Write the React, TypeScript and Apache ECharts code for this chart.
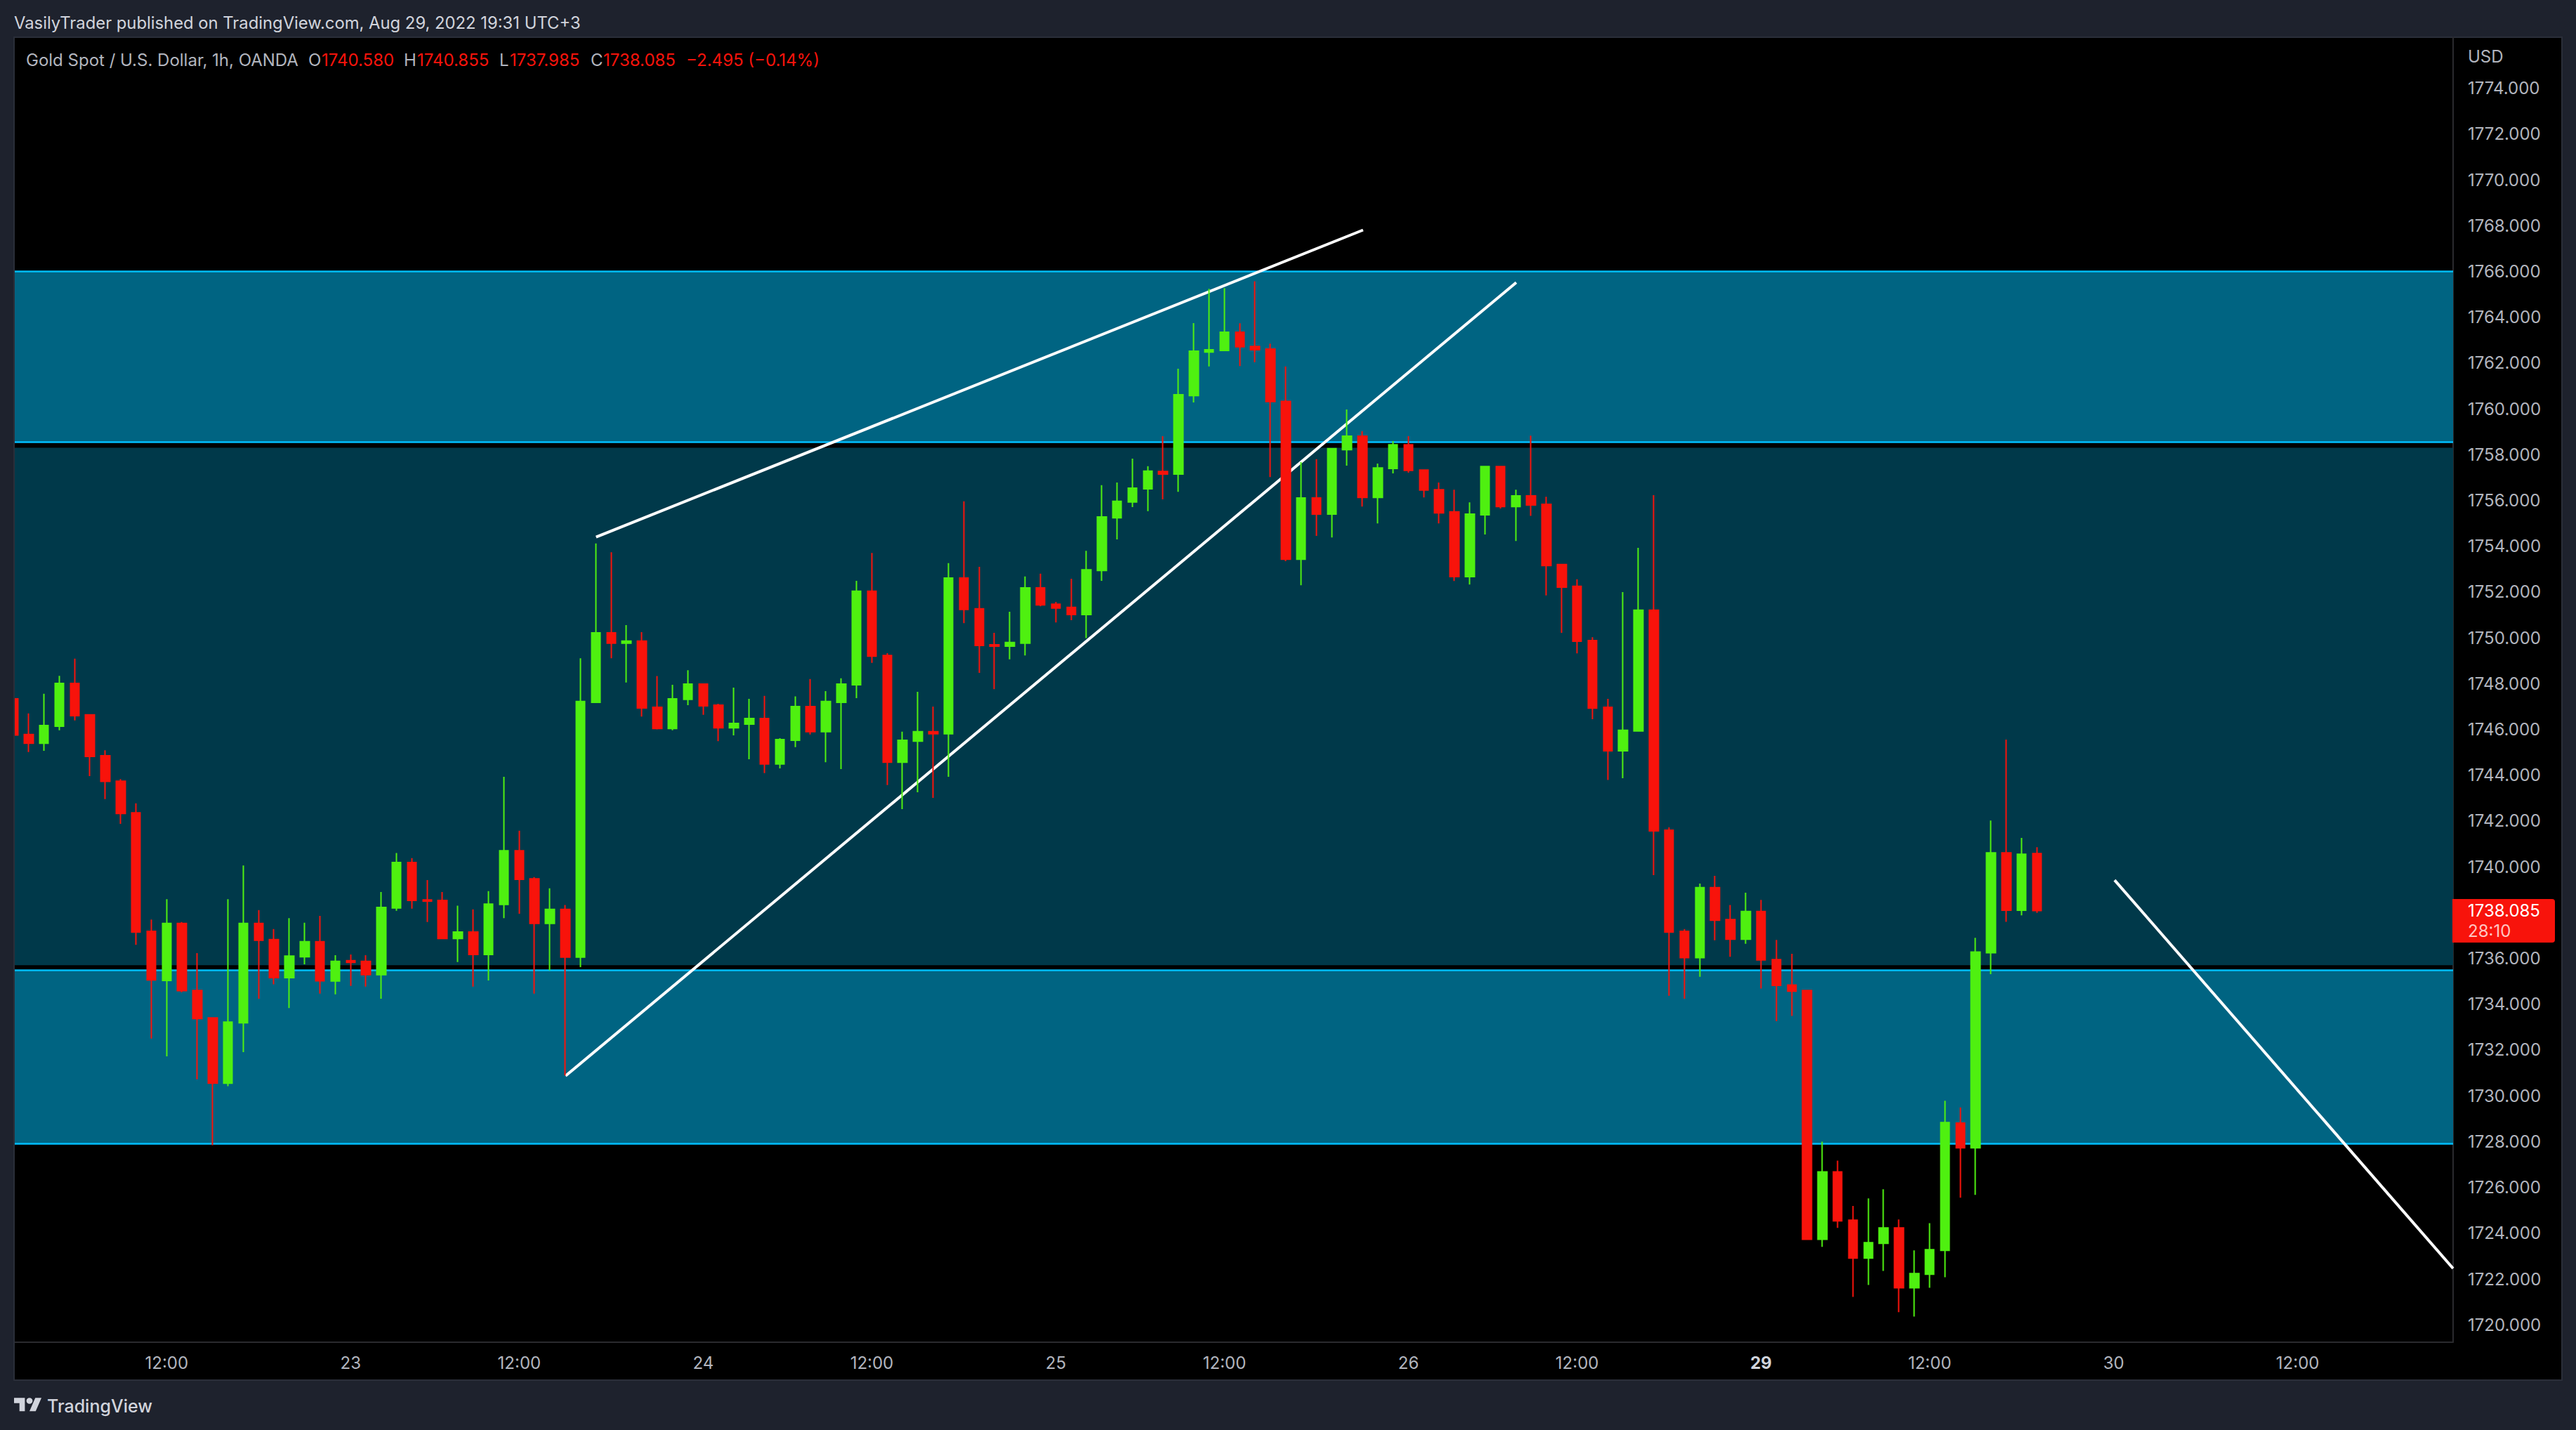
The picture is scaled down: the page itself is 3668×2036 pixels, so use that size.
import { useEffect, useRef } from 'react';
import * as echarts from 'echarts';

const opens = [
  1747.34, 1745.78, 1745.4, 1746.14, 1748.01, 1746.64, 1744.85, 1743.74, 1742.36, 1737.18,
  1735.04, 1737.53, 1734.6, 1733.4, 1730.55, 1733.19, 1737.53, 1736.82, 1735.16, 1736.07,
  1736.73, 1735.01, 1735.9, 1735.87, 1735.29, 1738.2, 1740.19, 1738.56, 1738.53, 1736.87,
  1737.15, 1736.17, 1738.36, 1740.7, 1739.48, 1737.53, 1738.14, 1736.06, 1747.18, 1750.22,
  1749.77, 1749.86, 1746.97, 1746.04, 1747.31, 1747.98, 1747.06, 1746.07, 1746.23, 1746.48,
  1744.49, 1745.53, 1747.0, 1745.9, 1747.18, 1747.95, 1752.04, 1749.23, 1744.57, 1745.49,
  1745.9, 1745.81, 1752.61, 1751.27, 1749.7, 1749.64, 1749.77, 1752.18, 1751.47, 1751.33,
  1751.02, 1752.94, 1755.24, 1755.93, 1756.51, 1757.27, 1757.15, 1760.58, 1762.48, 1762.55,
  1763.35, 1762.73, 1762.61, 1760.33, 1753.43, 1756.11, 1755.4, 1758.22, 1758.81, 1756.13,
  1757.4, 1758.43, 1757.33, 1756.47, 1755.5, 1752.67, 1755.37, 1757.48, 1755.73, 1756.2,
  1755.83, 1753.2, 1752.25, 1749.88, 1746.97, 1745.07, 1745.93, 1751.21, 1741.6, 1737.18,
  1736.03, 1739.09, 1737.7, 1736.84, 1738.05, 1735.95, 1734.84, 1734.6, 1723.73, 1726.68,
  1724.57, 1722.91, 1723.56, 1724.23, 1721.62, 1722.21, 1723.25, 1728.81, 1727.73, 1736.25,
  1740.61, 1738.1, 1740.58,
];
const closes = [
  1745.76, 1745.4, 1746.17, 1748.01, 1746.6, 1744.82, 1743.73, 1742.33, 1737.15, 1735.06,
  1737.53, 1734.59, 1733.37, 1730.55, 1733.22, 1737.53, 1736.79, 1735.16, 1736.1, 1736.73,
  1735.02, 1735.87, 1735.83, 1735.29, 1738.23, 1740.19, 1738.53, 1738.5, 1736.87, 1737.15,
  1736.17, 1738.37, 1740.7, 1739.45, 1737.53, 1738.14, 1736.06, 1747.22, 1750.22, 1749.77,
  1749.86, 1746.94, 1746.04, 1747.34, 1747.98, 1747.03, 1746.07, 1746.26, 1746.48, 1744.49,
  1745.56, 1747.0, 1745.9, 1747.22, 1747.98, 1752.04, 1749.2, 1744.57, 1745.53, 1745.9,
  1745.81, 1752.61, 1751.24, 1749.67, 1749.64, 1749.8, 1752.18, 1751.44, 1751.3, 1751.02,
  1752.97, 1755.28, 1755.96, 1756.54, 1757.28, 1757.15, 1760.62, 1762.52, 1762.58, 1763.35,
  1762.71, 1762.58, 1760.32, 1753.43, 1756.11, 1755.4, 1758.26, 1758.81, 1756.13, 1757.42,
  1758.43, 1757.31, 1756.45, 1755.46, 1752.67, 1755.4, 1757.48, 1755.73, 1756.2, 1755.8,
  1753.16, 1752.21, 1749.85, 1746.93, 1745.07, 1745.96, 1751.21, 1741.57, 1737.15, 1736.03,
  1739.09, 1737.67, 1736.84, 1738.05, 1735.93, 1734.82, 1734.57, 1723.73, 1726.68, 1724.54,
  1722.91, 1723.59, 1724.23, 1721.62, 1722.24, 1723.28, 1728.83, 1727.73, 1736.28, 1740.61,
  1738.1, 1740.55, 1738.085,
];
const lows = [
  1745.7, 1745.01, 1745.07, 1745.96, 1746.39, 1743.96, 1742.96, 1741.88, 1736.59, 1732.5,
  1731.72, 1734.52, 1730.72, 1727.84, 1730.42, 1731.91, 1734.24, 1734.87, 1733.83, 1735.74,
  1734.46, 1734.43, 1734.8, 1734.77, 1734.24, 1738.08, 1738.17, 1737.59, 1736.87, 1735.84,
  1734.77, 1735.04, 1737.76, 1737.95, 1734.46, 1735.48, 1730.89, 1735.62, 1747.18, 1749.11,
  1748.05, 1746.56, 1746.0, 1745.96, 1747.06, 1746.64, 1745.49, 1745.74, 1744.7, 1744.09,
  1744.3, 1745.23, 1745.78, 1744.57, 1744.27, 1747.37, 1748.91, 1743.57, 1742.52, 1743.26,
  1743.01, 1743.93, 1750.64, 1748.47, 1747.76, 1749.06, 1749.23, 1751.38, 1750.67, 1750.77,
  1749.99, 1752.49, 1754.3, 1755.71, 1755.53, 1756.05, 1756.38, 1760.28, 1761.85, 1762.55,
  1761.87, 1762.04, 1757.02, 1753.35, 1752.3, 1754.45, 1754.38, 1757.52, 1755.73, 1755.0,
  1757.18, 1757.21, 1756.13, 1755.0, 1752.48, 1752.33, 1754.51, 1755.65, 1754.23, 1755.33,
  1751.85, 1750.22, 1749.32, 1746.45, 1743.79, 1743.87, 1745.93, 1739.64, 1734.37, 1734.24,
  1735.2, 1736.79, 1736.07, 1736.64, 1734.68, 1733.26, 1733.49, 1723.71, 1723.4, 1724.23,
  1721.22, 1721.74, 1722.35, 1720.55, 1720.36, 1721.62, 1722.08, 1725.55, 1725.67, 1735.31,
  1737.6, 1737.88, 1737.985,
];
const highs = [
  1747.4, 1746.7, 1747.56, 1748.34, 1749.09, 1746.64, 1745.09, 1743.83, 1742.77, 1737.7,
  1738.59, 1737.59, 1736.23, 1733.4, 1738.59, 1740.06, 1738.11, 1737.28, 1737.76, 1737.56,
  1737.86, 1736.14, 1736.17, 1736.14, 1738.9, 1740.6, 1740.38, 1739.42, 1738.9, 1738.3,
  1738.14, 1738.94, 1743.93, 1741.58, 1739.55, 1739.06, 1738.33, 1749.11, 1754.12, 1753.74,
  1750.56, 1750.25, 1748.33, 1747.95, 1748.59, 1747.98, 1747.12, 1747.83, 1747.34, 1747.47,
  1745.62, 1747.44, 1748.2, 1747.67, 1748.23, 1752.49, 1753.71, 1749.33, 1745.9, 1747.64,
  1747.0, 1753.26, 1755.96, 1753.1, 1750.22, 1751.14, 1752.68, 1752.8, 1751.57, 1752.58,
  1753.8, 1756.67, 1756.78, 1757.83, 1757.5, 1758.81, 1761.75, 1763.75, 1765.24, 1765.27,
  1763.74, 1765.57, 1762.85, 1761.85, 1757.67, 1757.8, 1758.28, 1759.97, 1759.02, 1757.61,
  1758.59, 1758.81, 1757.36, 1756.78, 1756.47, 1755.92, 1757.48, 1757.48, 1756.47, 1758.83,
  1756.16, 1753.22, 1752.56, 1750.03, 1747.34, 1752.0, 1753.93, 1756.23, 1741.72, 1737.28,
  1739.27, 1739.61, 1738.33, 1738.87, 1738.56, 1736.81, 1736.2, 1734.62, 1728.0, 1727.17,
  1725.19, 1725.52, 1725.92, 1724.6, 1723.25, 1724.44, 1729.78, 1729.49, 1736.9, 1742.02,
  1745.56, 1741.26, 1740.855,
];

const timeTickIndex = [10, 22, 33, 45, 56, 68, 79, 91, 102, 114, 125, 137, 149];
const timeTickLabel = ['12:00', '23', '12:00', '24', '12:00', '25', '12:00', '26', '12:00', '29', '12:00', '30', '12:00'];
const priceTicks = [
  1720, 1722, 1724, 1726, 1728, 1730, 1732, 1734, 1736, 1740, 1742, 1744, 1746, 1748, 1750, 1752, 1754,
  1756, 1758, 1760, 1762, 1764, 1766, 1768, 1770, 1772, 1774,
];

// [top, bottom] of the supply / range / demand zones
const supplyZone = [1766, 1758.55];
const rangeZone = [1758.3, 1735.7];
const demandZone = [1735.5, 1727.9];

// trend lines as [bar index, price]
const wedgeUpper = [[38.01, 1754.4], [88.04, 1767.81]];
const wedgeLower = [[36.02, 1730.87], [98.03, 1765.52]];
const projection = [[137.06, 1739.42], [159.14, 1722.46]];

const UP = '#4FF010';
const DOWN = '#F8130B';
const FONT = 'Inter';

echarts.graphic.registerShape(
  'tvLogo',
  echarts.graphic.extendPath('M14 22H7V11H0V4h14v18zM28 22h-8l7.5-18h8L28 22zM16 8a4 4 0 1 0 8 0a4 4 0 1 0 -8 0z', {})
);

const label = (x: number, y: number, text: string, fill: string, size = 24, extra = {}) => ({
  type: 'text',
  x,
  y,
  z: 20,
  style: { text, fill, fontFamily: FONT, fontSize: size, verticalAlign: 'middle', ...extra },
});

export default function App() {
  const chartRef = useRef<HTMLDivElement>(null);

  useEffect(() => {
    if (!chartRef.current) return;
    const chart = echarts.init(chartRef.current, undefined, { renderer: 'svg' });

    const candles = opens.map((o, i) => [i, o, closes[i], lows[i], highs[i]]);
    const trendLine = (data: number[][]) => ({
      type: 'line',
      data,
      z: 2,
      symbol: 'none',
      silent: true,
      lineStyle: { color: '#FFFFFF', width: 4 },
    });

    chart.setOption({
      animation: false,
      backgroundColor: '#1E222D',
      grid: { left: 20, right: 175, top: 53, bottom: 125 },
      xAxis: {
        type: 'value',
        min: 0.046,
        max: 159.14,
        splitLine: { show: false },
        axisTick: { show: false },
        axisLine: { onZero: false, lineStyle: { color: '#2A2A2E', width: 2 } },
        axisLabel: {
          customValues: timeTickIndex,
          margin: 17,
          color: '#B2B5BE',
          fontFamily: FONT,
          fontSize: 24,
          formatter: (value: number) => {
            const text = timeTickLabel[timeTickIndex.indexOf(value)] ?? '';
            return text === '29' ? `{bold|${text}}` : text;
          },
          rich: { bold: { fontWeight: 700, color: '#D1D4DC', fontFamily: FONT, fontSize: 24 } },
        },
      },
      yAxis: {
        type: 'value',
        position: 'right',
        min: 1719.24,
        max: 1776.23,
        splitLine: { show: false },
        axisTick: { show: false },
        axisLine: { show: true, onZero: false, lineStyle: { color: '#2A2A2E', width: 2 } },
        axisLabel: {
          customValues: priceTicks,
          margin: 21,
          color: '#B2B5BE',
          fontFamily: FONT,
          fontSize: 24,
          formatter: (value: number) => value.toFixed(3),
        },
      },
      series: [
        trendLine(wedgeUpper),
        trendLine(wedgeLower),
        trendLine(projection),
        {
          type: 'candlestick',
          data: candles,
          encode: { x: 0, y: [1, 2, 3, 4] },
          z: 3,
          clip: true,
          barWidth: 13,
          silent: true,
          itemStyle: { color: UP, color0: DOWN, borderColor: UP, borderColor0: DOWN, borderWidth: 2 },
          markArea: {
            silent: true,
            z: 1,
            data: [
              [{ yAxis: supplyZone[0], itemStyle: { color: '#006482' } }, { yAxis: supplyZone[1] }],
              [{ yAxis: rangeZone[0], itemStyle: { color: '#00394A' } }, { yAxis: rangeZone[1] }],
              [{ yAxis: demandZone[0], itemStyle: { color: '#006482' } }, { yAxis: demandZone[1] }],
            ],
          },
          markLine: {
            silent: true,
            z: 1,
            symbol: 'none',
            label: { show: false },
            lineStyle: { type: 'solid', color: '#00BFFF', width: 2.5 },
            data: [
              { yAxis: supplyZone[0] },
              { yAxis: supplyZone[1] },
              { yAxis: demandZone[0] },
              { yAxis: demandZone[1] },
            ],
          },
        },
      ],
      graphic: [
        {
          type: 'rect',
          z: 0,
          shape: { x: 20, y: 53, width: 3628, height: 1912 },
          style: { fill: '#000000', stroke: '#2A2E39', lineWidth: 2 },
        },
        // the first candle is cut off by the panel's left edge
        {
          type: 'rect',
          z: 10,
          shape: { x: 0, y: 54, width: 20, height: 1910 },
          style: { fill: '#1E222D' },
        },
        {
          type: 'line',
          z: 11,
          shape: { x1: 20, y1: 53, x2: 20, y2: 1965 },
          style: { stroke: '#2A2E39', lineWidth: 2 },
        },
        label(20, 32, 'VasilyTrader published on TradingView.com, Aug 29, 2022 19:31 UTC+3', '#D1D4DC', 23.8),
        label(37, 85, 'Gold Spot / U.S. Dollar, 1h, OANDA', '#B2B5BE'),
        label(439, 85, 'O', '#B2B5BE'),
        label(458, 85, '1740.580', DOWN),
        label(575, 85, 'H', '#B2B5BE'),
        label(594, 85, '1740.855', DOWN),
        label(711, 85, 'L', '#B2B5BE'),
        label(726, 85, '1737.985', DOWN),
        label(841, 85, 'C', '#B2B5BE'),
        label(859, 85, '1738.085', DOWN),
        label(977, 85, '\u22122.495 (\u22120.14%)', DOWN),
        label(3514, 80, 'USD', '#B2B5BE'),
        {
          type: 'rect',
          z: 15,
          shape: { x: 3492, y: 1280, width: 146, height: 62, r: [0, 4, 4, 0] },
          style: { fill: DOWN },
        },
        label(3514, 1296, '1738.085', '#FFFFFF'),
        label(3514, 1325, '28:10', '#FFC4C1'),
        {
          type: 'tvLogo',
          x: 20,
          y: 1986,
          scaleX: 1.1,
          scaleY: 1.06,
          z: 20,
          style: { fill: '#D1D4DC' },
        },
        label(67, 2002, 'TradingView', '#D1D4DC', 25, { fontWeight: 500 }),
      ],
    });

    return () => {
      chart.dispose();
    };
  }, []);

  return <div ref={chartRef} style={{ position: 'fixed', left: 0, top: 0, width: 3668, height: 2036 }} />;
}
